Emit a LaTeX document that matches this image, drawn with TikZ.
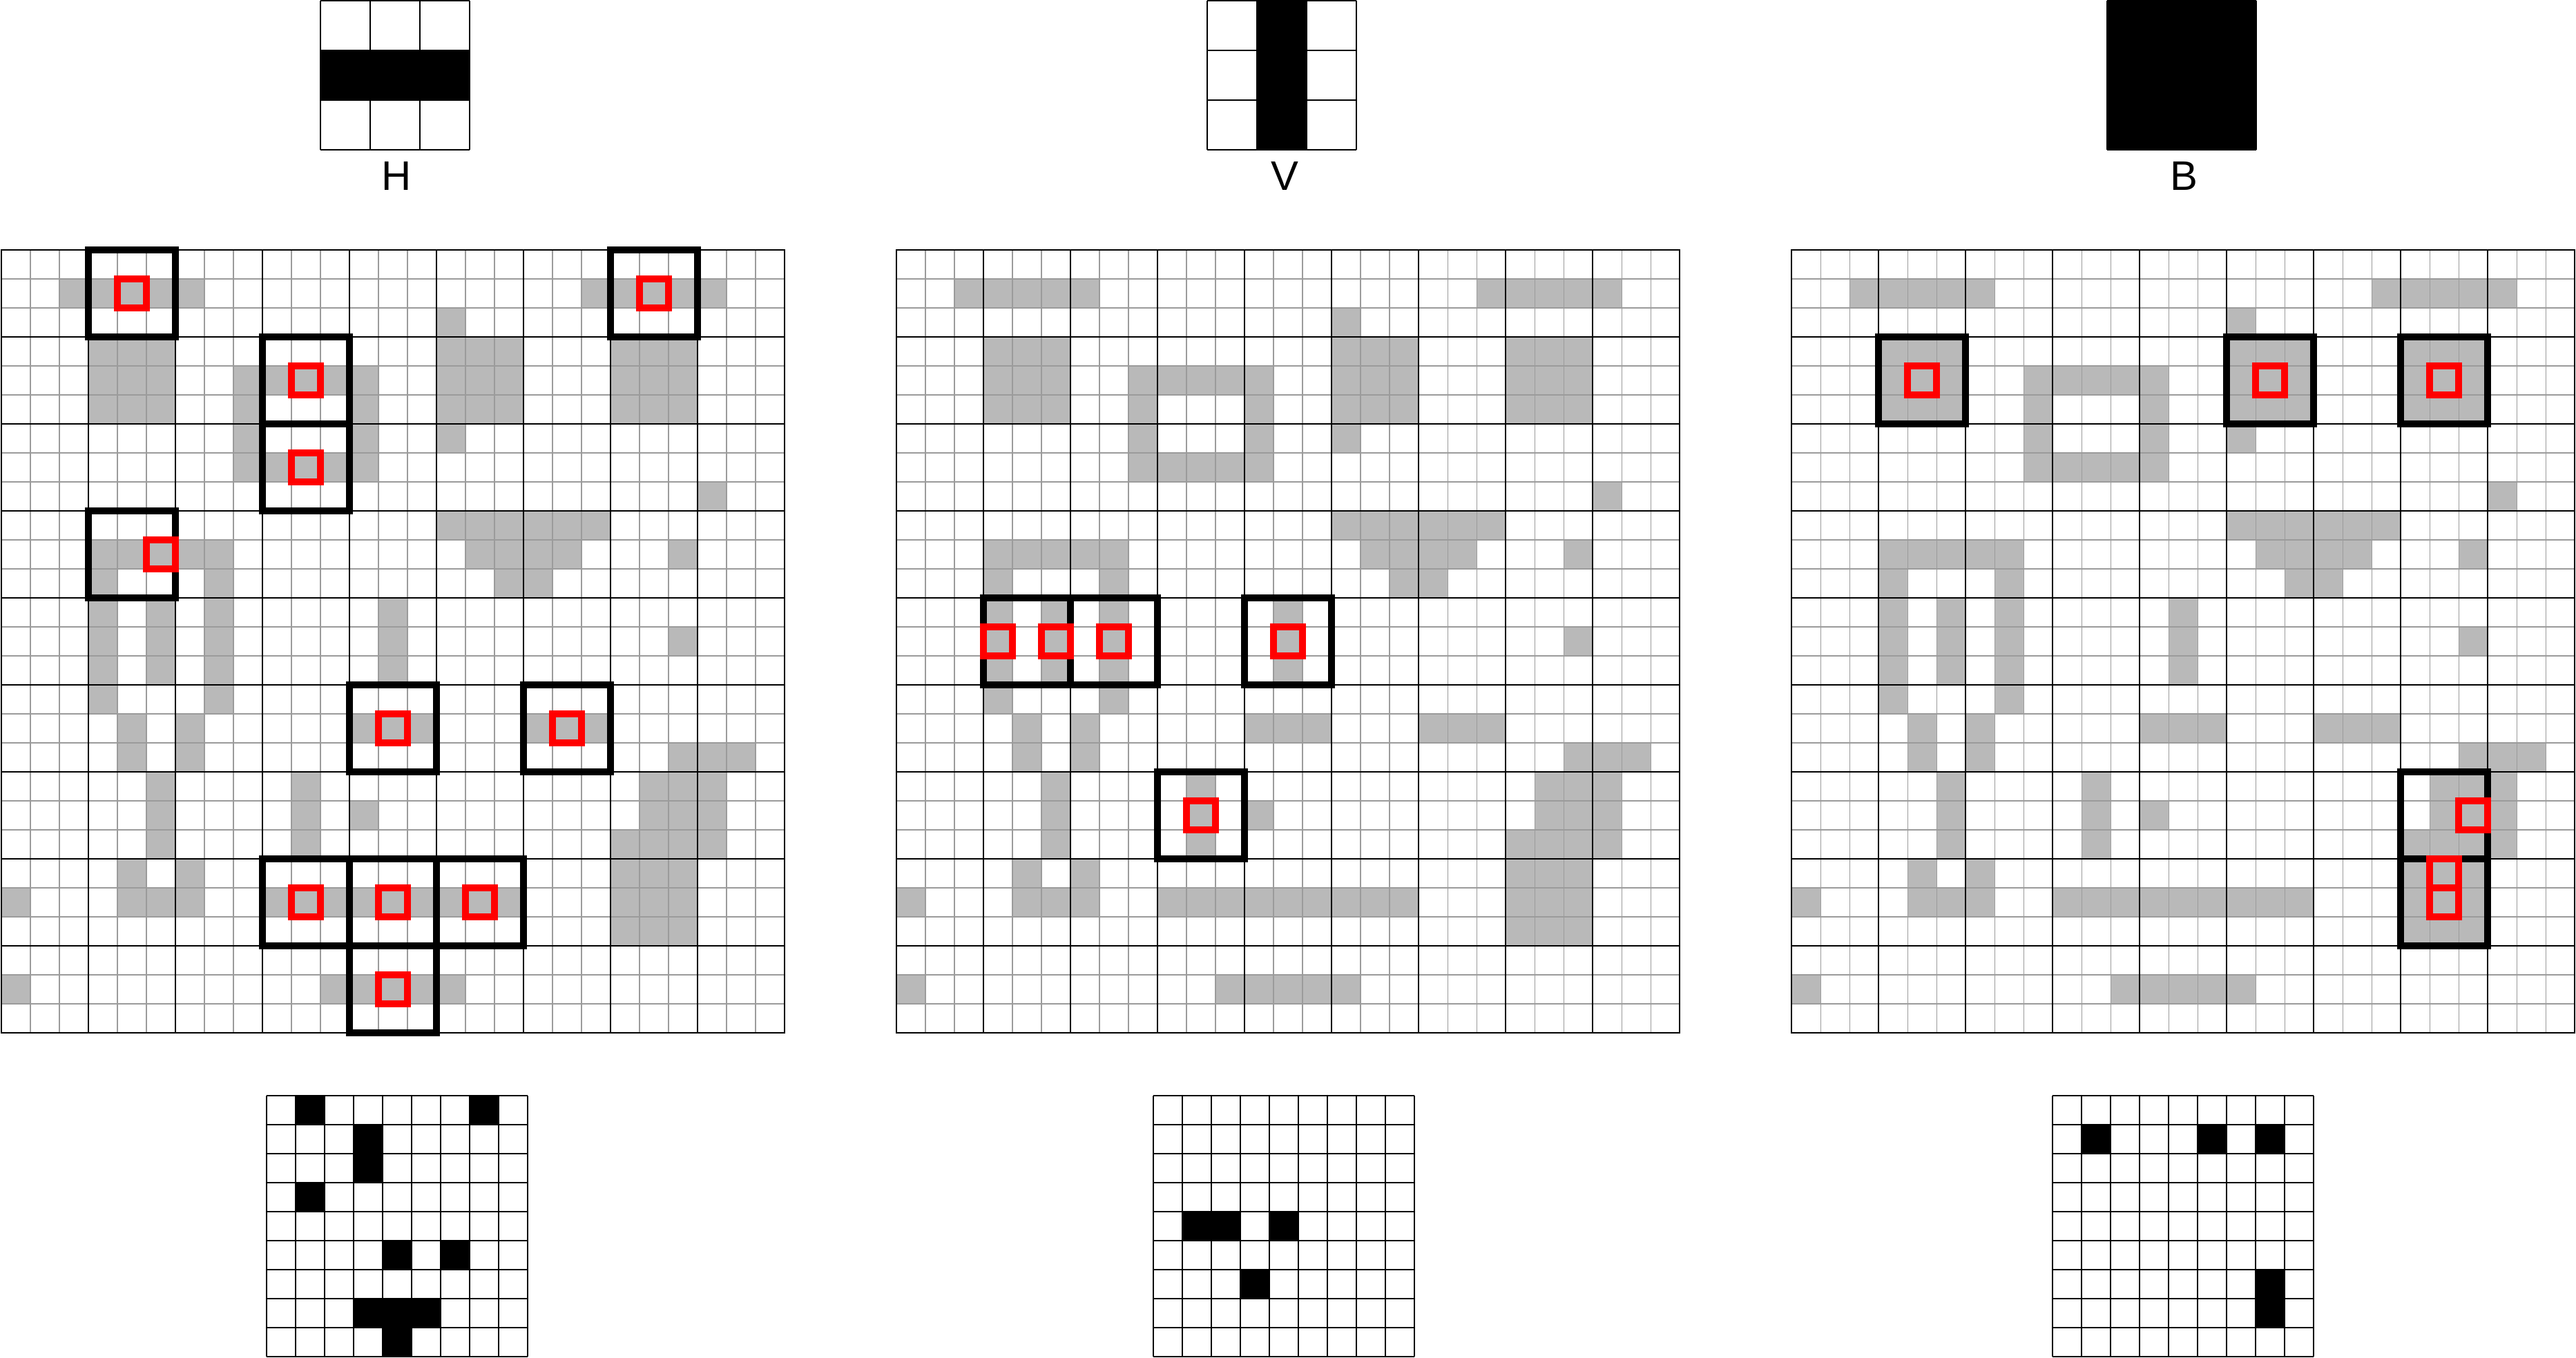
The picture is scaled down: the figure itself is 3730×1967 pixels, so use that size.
\documentclass[tikz,border=0pt]{standalone}
\usepackage{fontspec}
\setmainfont{Liberation Sans}
\definecolor{cellgray}{RGB}{185,185,185}
\definecolor{finegray}{RGB}{155,155,155}
\tikzset{
  fineline/.style={finegray, line width=0.3pt},
  coarseline/.style={black, line width=0.6pt},
  blockbox/.style={black, line width=2.6pt},
  hitbox/.style={red, line width=2.85pt},
  outline/.style={black, line width=0.5pt},
  kernline/.style={black, line width=0.4pt},
  lbl/.style={font=\fontsize{17}{20}\selectfont, inner sep=0pt}
}
\newcommand{\graylist}{1/2/6, 1/20/24, 2/15/15, 3/3/5, 3/15/17, 3/21/23, 4/3/5, 4/8/12, 4/15/17, 4/21/23, 5/3/5, 5/8/8, 5/12/12, 5/15/17, 5/21/23, 6/8/8, 6/12/12, 6/15/15, 7/8/12, 8/24/24, 9/15/20, 10/3/7, 10/16/19, 10/23/23, 11/3/3, 11/7/7, 11/17/18, 12/3/3, 12/5/5, 12/7/7, 12/13/13, 13/3/3, 13/5/5, 13/7/7, 13/13/13, 13/23/23, 14/3/3, 14/5/5, 14/7/7, 14/13/13, 15/3/3, 15/7/7, 16/4/4, 16/6/6, 16/12/14, 16/18/20, 17/4/4, 17/6/6, 17/23/25, 18/5/5, 18/10/10, 18/22/24, 19/5/5, 19/10/10, 19/12/12, 19/22/24, 20/5/5, 20/10/10, 20/21/24, 21/4/4, 21/6/6, 21/21/23, 22/0/0, 22/4/6, 22/9/17, 22/21/23, 23/21/23, 25/0/0, 25/11/15}
% #1 grid x, #2 output x, #3 blocks, #4 hits
\newcommand{\drawpanel}[4]{%
  \begin{scope}[shift={(#1,362)}]
    \foreach \r/\a/\b in \graylist
      \fill[cellgray] ({\a*42},{\r*42}) rectangle ({(\b+1)*42},{(\r+1)*42});
    \foreach \i in {1,...,26} {
      \draw[fineline] ({\i*42},0) -- ({\i*42},1134);
      \draw[fineline] (0,{\i*42}) -- (1134,{\i*42});
    }
    \foreach \i in {1,...,8} {
      \draw[coarseline] ({\i*126},0) -- ({\i*126},1134);
      \draw[coarseline] (0,{\i*126}) -- (1134,{\i*126});
    }
    \draw[coarseline] (0,0) rectangle (1134,1134);
    \foreach \bx/\by in {#3}
      \draw[blockbox] ({\bx*126},{\by*126}) rectangle ++(126,126);
    \foreach \c/\r in {#4}
      \draw[hitbox] ({\c*42},{\r*42}) rectangle ++(42,42);
  \end{scope}
  \begin{scope}[shift={(#2,1587)}]
    \foreach \bx/\by in {#3}
      \fill[black] ({\bx*42},{\by*42}) rectangle ++(42,42);
    \foreach \i in {0,...,9} {
      \draw[outline] ({\i*42},0) -- ({\i*42},378);
      \draw[outline] (0,{\i*42}) -- (378,{\i*42});
    }
  \end{scope}
}
\newcommand{\kerngrid}[1]{%
  \foreach \i in {0,1,2,3} {
    \draw[kernline] ({#1+\i*72},1) -- ({#1+\i*72},217);
    \draw[kernline] (#1,{1+\i*72}) -- ({#1+216},{1+\i*72});
  }
}
\begin{document}
\begin{tikzpicture}[x=0.01cm,y=-0.01cm]
\useasboundingbox (0,0) rectangle (3730,1967);
\fill[white] (0,0) rectangle (3730,1967);

% kernels
\fill[black] (464,73) rectangle (680,145);
\kerngrid{464}
\node[lbl] (labH) at (574,255) {H};

\fill[black] (1820,1) rectangle (1892,217);
\kerngrid{1748}
\node[lbl] (labV) at (1860,255) {V};

\fill[black] (3051,1) rectangle (3267,217);
\kerngrid{3051}
\node[lbl] (labB) at (3162,255) {B};

% panels
\drawpanel{2}{386}{1/0, 7/0, 3/1, 3/2, 1/3, 4/5, 6/5, 3/7, 4/7, 5/7, 4/8}{4/1, 22/1, 10/4, 10/7, 5/10, 13/16, 19/16, 10/22, 13/22, 16/22, 13/25}
\drawpanel{1298}{1670}{1/4, 2/4, 4/4, 3/6}{3/13, 5/13, 7/13, 13/13, 10/19}
\drawpanel{2594}{2972}{1/1, 5/1, 7/1, 7/6, 7/7}{4/4, 16/4, 22/4, 23/19, 22/21, 22/22}
\end{tikzpicture}
\end{document}
